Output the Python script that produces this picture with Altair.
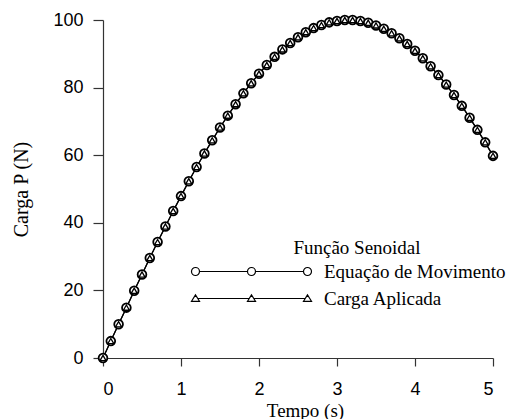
import altair as alt
import pandas as pd

tempo = [0.0, 0.1, 0.2, 0.3, 0.4, 0.5, 0.6, 0.7, 0.8, 0.9,
         1.0, 1.1, 1.2, 1.3, 1.4, 1.5, 1.6, 1.7, 1.8, 1.9,
         2.0, 2.1, 2.2, 2.3, 2.4, 2.5, 2.6, 2.7, 2.8, 2.9,
         3.0, 3.1, 3.2, 3.3, 3.4, 3.5, 3.6, 3.7, 3.8, 3.9,
         4.0, 4.1, 4.2, 4.3, 4.4, 4.5, 4.6, 4.7, 4.8, 4.9, 5.0]
p_movimento = [0.0, 5.0, 10.0, 14.9, 19.9, 24.7, 29.6, 34.3, 38.9, 43.5,
               47.9, 52.3, 56.5, 60.5, 64.4, 68.2, 71.7, 75.1, 78.3, 81.3,
               84.1, 86.7, 89.1, 91.3, 93.2, 94.9, 96.4, 97.6, 98.5, 99.3,
               99.7, 100.0, 100.0, 99.7, 99.2, 98.4, 97.4, 96.1, 94.6, 92.9,
               90.9, 88.7, 86.3, 83.7, 80.9, 77.8, 74.6, 71.1, 67.5, 63.8, 59.8]
p_aplicada = [0.0, 5.0, 10.0, 14.9, 19.9, 24.7, 29.6, 34.3, 38.9, 43.5,
              47.9, 52.3, 56.5, 60.5, 64.4, 68.2, 71.7, 75.1, 78.3, 81.3,
              84.1, 86.7, 89.1, 91.3, 93.2, 94.9, 96.4, 97.6, 98.5, 99.3,
              99.7, 100.0, 100.0, 99.7, 99.2, 98.4, 97.4, 96.1, 94.6, 92.9,
              90.9, 88.7, 86.3, 83.7, 80.9, 77.8, 74.6, 71.1, 67.5, 63.8, 59.8]
series = ["Equação de Movimento", "Carga Aplicada"]
legend_title = "Função Senoidal"
x_ticks = [0, 1, 2, 3, 4, 5]
y_ticks = [0, 20, 40, 60, 80, 100]

df = pd.concat([
    pd.DataFrame({"t": tempo, "P": p_movimento, "serie": series[0]}),
    pd.DataFrame({"t": tempo, "P": p_aplicada, "serie": series[1]}),
])

SERIF = "Liberation Serif"
SANS = "Liberation Sans"

# legend glyphs: line with three markers (unit = 4 px)
circ_path = ("M-27,0L-15,0M-13,0L-1,0"
             "M-27,0A1,1,0,1,1,-29,0A1,1,0,1,1,-27,0Z"
             "M-13,0A1,1,0,1,1,-15,0A1,1,0,1,1,-13,0Z"
             "M1,0A1,1,0,1,1,-1,0A1,1,0,1,1,1,0Z")
tri_path = ("M-27.4,0L-14.6,0M-13.4,0L-0.6,0"
            "M-28,-0.9L-29,0.7L-27,0.7Z"
            "M-14,-0.9L-15,0.7L-13,0.7Z"
            "M0,-0.9L-1,0.7L1,0.7Z")

x_enc = alt.X("t:Q", scale=alt.Scale(domain=[0, 5], nice=False),
              axis=alt.Axis(title="Tempo (s)", values=x_ticks, format="d", grid=False,
                            domainColor="#333", tickColor="#333", tickSize=8,
                            labelFont=SANS, labelFontSize=18, labelColor="black", labelPadding=14,
                            titleFont=SERIF, titleFontSize=19, titleFontWeight="normal",
                            titleColor="black", titleX=202, titleY=58,
                            titleBaseline="alphabetic", titleAlign="center"))
y_enc = alt.Y("P:Q", scale=alt.Scale(domain=[0, 100], nice=False),
              axis=alt.Axis(title="Carga P (N)", values=y_ticks, grid=False,
                            domainColor="#333", tickColor="#333", tickSize=10,
                            labelFont=SANS, labelFontSize=18, labelColor="black", labelPadding=10,
                            titleFont=SERIF, titleFontSize=20, titleFontWeight="normal",
                            titleColor="black", titleX=-76, titleY=169,
                            titleBaseline="alphabetic", titleAlign="center", titleAngle=270))

base = alt.Chart(df)

lines = base.mark_line(color="black", strokeWidth=1.2).encode(x=x_enc, y=y_enc, detail="serie:N")
circles = base.transform_filter(alt.datum.serie == series[0]).mark_point(
    shape="circle", filled=True, fill="white", stroke="black", strokeWidth=1.8, size=76, opacity=1
).encode(x="t:Q", y="P:Q")
tris = base.transform_filter(alt.datum.serie == series[1]).mark_point(
    shape="triangle-up", filled=False, stroke="black", strokeWidth=1.3, size=36, opacity=1
).encode(x="t:Q", y="P:Q")

legend_layer = base.transform_filter("false").mark_point(
    filled=False, color="black", strokeWidth=1.2, size=64, opacity=1
).encode(
    x="t:Q", y="P:Q",
    shape=alt.Shape("serie:N", scale=alt.Scale(domain=series, range=[circ_path, tri_path]),
                    legend=alt.Legend(title=None, orient="none", legendX=195, legendY=242,
                                      symbolSize=64, symbolStrokeWidth=1.2, symbolStrokeColor="black",
                                      symbolOpacity=1, labelLimit=400,
                                      labelFont=SERIF, labelFontSize=19, labelColor="black",
                                      labelOffset=7, rowPadding=7, padding=0, symbolOffset=0))
)

title_txt = alt.Chart(pd.DataFrame({"txt": [legend_title]})).mark_text(
    font=SERIF, fontSize=19, color="black", align="center", baseline="middle"
).encode(text="txt:N", x=alt.value(254), y=alt.value(228))

chart = alt.layer(lines, circles, tris, legend_layer, title_txt).properties(
    width=390, height=338,
    padding={"left": 103, "top": 20, "right": 32, "bottom": 61},
    autosize=alt.AutoSizeParams(type="none"),
).configure_view(stroke=None).configure_axis(domainWidth=1.2, tickWidth=1.2)

chart.save("out.html", embed_options={"renderer": "svg", "actions": False})
